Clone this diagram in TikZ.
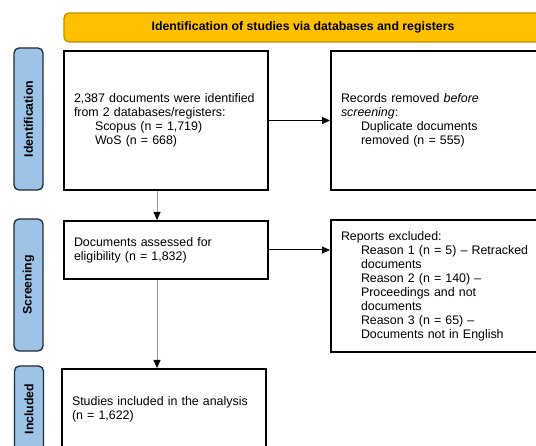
\documentclass[tikz,border=0pt]{standalone}
\usepackage{fontspec}
\setmainfont{Liberation Sans}
\usetikzlibrary{arrows.meta}
\definecolor{bannerfill}{HTML}{FFC000}
\definecolor{bannerline}{HTML}{BF9000}
\definecolor{tabfill}{HTML}{9DC3E6}
\definecolor{tabline}{HTML}{1F2A36}
\begin{document}
\begin{tikzpicture}[x=1pt,y=-1pt,
	box/.style={draw,line width=2pt,anchor=north west,inner xsep=10pt,align=left,font=\fontsize{12.4}{14}\selectfont},
	tab/.style={draw=tabline,fill=tabfill,line width=1.3pt,rounded corners=5pt,rotate=90,minimum height=29pt,inner sep=0pt,font=\fontsize{12.3}{14}\selectfont\bfseries},
	arr/.style={line width=1pt,-{Triangle[length=8pt,width=7pt,color=black]}}]
		\useasboundingbox (0,0) rectangle (536,446);
		\clip (0,0) rectangle (536,446);
		
		\node[draw=bannerline,fill=bannerfill,line width=1.3pt,rounded corners=5pt,minimum width=478pt,minimum height=29pt,font=\fontsize{12.3}{14}\selectfont\bfseries] (banner) at (303,27.5) {Identification of studies via databases and registers};
		
		\node[tab,minimum width=142pt] (identtab) at (28.5,119) {Identification};
		\node[tab,minimum width=132pt] (screentab) at (28.5,285) {Screening};
		\node[tab,minimum width=86pt] (incltab) at (29,409) {Included};
		
		\node[box,text width=184pt,minimum height=139pt] (ident) at (63,50) {2,387 documents were identified\\from 2 databases/registers:\\\hspace*{21pt}Scopus (n = 1,719)\\\hspace*{21pt}WoS (n = 668)};
		\node[box,text width=210pt,minimum height=139pt] (removed) at (330,50) {Records removed \emph{before}\\\emph{screening}:\\\hspace*{20pt}Duplicate documents\\\hspace*{20pt}removed (n = 555)};
		\node[box,text width=184pt,minimum height=58pt] (eligib) at (63,220) {Documents assessed for\\eligibility (n = 1,832)};
		\node[box,text width=210pt,minimum height=132pt] (excluded) at (330,219) {Reports excluded:\\\hspace*{20pt}Reason 1 (n = 5) – Retracked\\\hspace*{20pt}documents\\\hspace*{20pt}Reason 2 (n = 140) –\\\hspace*{20pt}Proceedings and not\\\hspace*{20pt}documents\\\hspace*{20pt}Reason 3 (n = 65) –\\\hspace*{20pt}Documents not in English};
		\node[box,text width=184pt,minimum height=80pt] (included) at (61,368) {Studies included in the analysis\\(n = 1,622)};
		
		\draw[arr] (ident.east) -- (removed.west);
		\draw[arr] (eligib.east) -- (eligib.east -| excluded.west);
		\draw[arr,gray!80] ([xshift=-9pt]ident.south) -- ([xshift=-9pt]eligib.north);
		\draw[arr,gray!80] ([xshift=-9pt]eligib.south) -- ([xshift=-9pt]eligib.south |- included.north);
	\end{tikzpicture}
\end{document}
